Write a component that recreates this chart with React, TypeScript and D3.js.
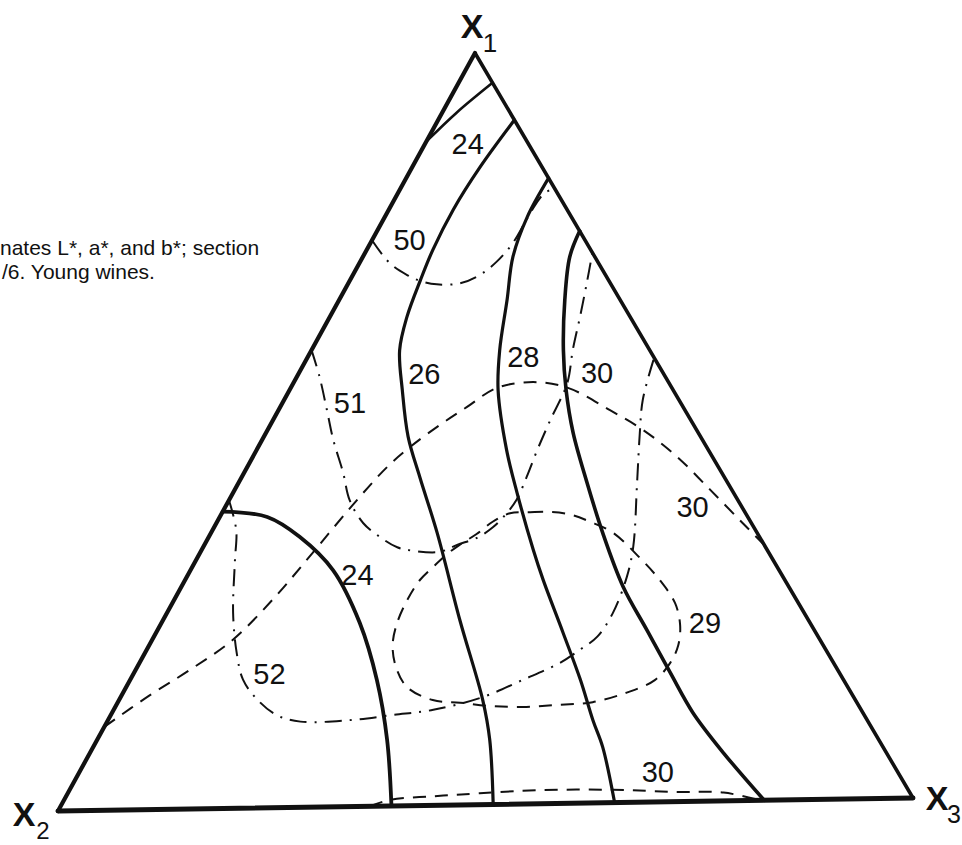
import React from "react";
import * as d3 from "d3";

// Ternary compositions are written as [x1, x2, x3].
type T = [number, number, number];

// a* contours (solid)
const a24Top: T[] = [[0.883, 0.117, 0.0], [0.921, 0.062, 0.017], [0.96, 0.0, 0.04]];
const a26: T[] = [
  [0.91, 0.0, 0.09], [0.848, 0.072, 0.08], [0.792, 0.132, 0.076], [0.739, 0.183, 0.078],
  [0.699, 0.218, 0.083], [0.65, 0.259, 0.091], [0.606, 0.29, 0.104], [0.553, 0.314, 0.133],
  [0.491, 0.339, 0.17], [0.437, 0.353, 0.21], [0.362, 0.371, 0.267], [0.246, 0.404, 0.35],
  [0.139, 0.432, 0.429], [0.086, 0.451, 0.463], [0.0, 0.491, 0.509],
];
const a28: T[] = [
  [0.832, 0.0, 0.168], [0.781, 0.051, 0.168], [0.728, 0.095, 0.177], [0.671, 0.131, 0.198],
  [0.604, 0.174, 0.222], [0.551, 0.203, 0.246], [0.471, 0.234, 0.295], [0.414, 0.251, 0.335],
  [0.338, 0.271, 0.391], [0.298, 0.28, 0.422], [0.227, 0.293, 0.48], [0.164, 0.305, 0.531],
  [0.11, 0.318, 0.572], [0.074, 0.325, 0.601], [0.0, 0.349, 0.651],
];
const a30: T[] = [
  [0.761, 0.0, 0.239], [0.727, 0.029, 0.244], [0.67, 0.064, 0.266], [0.603, 0.1, 0.297],
  [0.55, 0.124, 0.326], [0.493, 0.145, 0.362], [0.426, 0.163, 0.411], [0.359, 0.179, 0.462],
  [0.287, 0.192, 0.521], [0.229, 0.194, 0.577], [0.171, 0.196, 0.633], [0.118, 0.197, 0.685],
  [0.064, 0.189, 0.747], [0.0, 0.174, 0.826],
];
const a24Low: T[] = [
  [0.395, 0.605, 0.0], [0.387, 0.557, 0.056], [0.36, 0.533, 0.107], [0.315, 0.517, 0.168],
  [0.244, 0.522, 0.234], [0.168, 0.541, 0.291], [0.088, 0.57, 0.342], [0.0, 0.61, 0.39],
];

// L* contours (dash-dot)
const l50: T[] = [
  [0.753, 0.247, 0.0], [0.722, 0.242, 0.036], [0.706, 0.23, 0.064], [0.698, 0.219, 0.083],
  [0.693, 0.202, 0.105], [0.694, 0.174, 0.132], [0.705, 0.145, 0.15], [0.722, 0.117, 0.161],
  [0.747, 0.085, 0.168], [0.786, 0.045, 0.169], [0.81, 0.018, 0.172], [0.819, 0.0, 0.181],
];
const l51: T[] = [
  [0.608, 0.392, 0.0], [0.572, 0.401, 0.027], [0.528, 0.415, 0.057], [0.488, 0.428, 0.084],
  [0.444, 0.439, 0.117], [0.408, 0.45, 0.142], [0.377, 0.45, 0.173], [0.358, 0.44, 0.202],
  [0.344, 0.427, 0.229], [0.339, 0.411, 0.25], [0.337, 0.381, 0.282], [0.346, 0.356, 0.298],
  [0.355, 0.328, 0.317], [0.369, 0.302, 0.329], [0.387, 0.277, 0.336], [0.405, 0.256, 0.339],
  [0.435, 0.229, 0.336], [0.471, 0.198, 0.331], [0.51, 0.163, 0.327], [0.559, 0.118, 0.323],
  [0.603, 0.089, 0.308], [0.647, 0.058, 0.295], [0.692, 0.027, 0.281], [0.732, 0.0, 0.268],
];
const l52: T[] = [
  [0.41, 0.59, 0.0], [0.37, 0.602, 0.028], [0.33, 0.624, 0.046], [0.26, 0.662, 0.078],
  [0.207, 0.685, 0.108], [0.171, 0.696, 0.133], [0.144, 0.693, 0.163], [0.123, 0.681, 0.196],
  [0.114, 0.658, 0.228], [0.115, 0.6, 0.285], [0.121, 0.546, 0.333], [0.127, 0.496, 0.377],
  [0.143, 0.43, 0.427], [0.165, 0.372, 0.463], [0.187, 0.317, 0.496], [0.204, 0.285, 0.511],
  [0.221, 0.256, 0.523], [0.252, 0.222, 0.526], [0.3, 0.181, 0.519], [0.34, 0.153, 0.507],
  [0.425, 0.105, 0.47], [0.491, 0.068, 0.441], [0.535, 0.042, 0.423], [0.591, 0.0, 0.409],
];

// b* contours (dashed)
const b30Upper: T[] = [
  [0.111, 0.889, 0.0], [0.152, 0.815, 0.033], [0.185, 0.751, 0.064], [0.224, 0.681, 0.095],
  [0.28, 0.603, 0.117], [0.339, 0.528, 0.133], [0.401, 0.45, 0.149], [0.451, 0.384, 0.165],
  [0.477, 0.344, 0.179], [0.506, 0.294, 0.2], [0.529, 0.251, 0.22], [0.554, 0.203, 0.243],
  [0.561, 0.157, 0.282], [0.553, 0.121, 0.326], [0.522, 0.087, 0.391], [0.495, 0.062, 0.443],
  [0.459, 0.041, 0.5], [0.414, 0.025, 0.561], [0.369, 0.01, 0.621], [0.34, 0.0, 0.66],
];
const b29Loop: T[] = [
  [0.387, 0.273, 0.34], [0.388, 0.249, 0.363], [0.388, 0.226, 0.386], [0.384, 0.204, 0.412],
  [0.374, 0.186, 0.44], [0.359, 0.167, 0.474], [0.325, 0.153, 0.522], [0.295, 0.145, 0.56],
  [0.264, 0.143, 0.593], [0.235, 0.152, 0.613], [0.208, 0.168, 0.624], [0.185, 0.189, 0.626],
  [0.162, 0.219, 0.619], [0.146, 0.26, 0.594], [0.134, 0.306, 0.56], [0.131, 0.349, 0.52],
  [0.129, 0.39, 0.481], [0.131, 0.428, 0.441], [0.136, 0.46, 0.404], [0.14, 0.49, 0.37],
  [0.158, 0.511, 0.331], [0.185, 0.51, 0.305], [0.214, 0.499, 0.287], [0.243, 0.479, 0.278],
  [0.274, 0.451, 0.275], [0.3, 0.423, 0.277], [0.317, 0.399, 0.284], [0.332, 0.377, 0.291],
  [0.346, 0.353, 0.301], [0.36, 0.326, 0.314], [0.376, 0.299, 0.325],
];
const b30Lower: T[] = [
  [0.0, 0.635, 0.365], [0.008, 0.608, 0.384], [0.012, 0.555, 0.433], [0.015, 0.499, 0.486],
  [0.018, 0.427, 0.555], [0.017, 0.342, 0.641], [0.013, 0.274, 0.713], [0.011, 0.216, 0.773],
  [0.0, 0.178, 0.822],
];

// Contour labels and where they sit
const labelTexts = ["24", "50", "26", "28", "30", "51", "30", "24", "29", "52", "30"];
const labelAt: T[] = [
  [0.88, 0.07, 0.05], [0.753, 0.203, 0.044], [0.575, 0.277, 0.148], [0.595, 0.151, 0.254],
  [0.573, 0.076, 0.351], [0.538, 0.383, 0.079], [0.392, 0.057, 0.551], [0.308, 0.492, 0.2],
  [0.237, 0.122, 0.641], [0.179, 0.661, 0.16], [0.04, 0.278, 0.682],
];

const captionLines = ["nates L*, a*, and b*; section", "/6. Young wines."];

const W = 962;
const H = 845;

// Corner positions of the composition triangle
const P1: [number, number] = [475, 53];
const P2: [number, number] = [58, 811];
const P3: [number, number] = [913, 798];

// Each component pulls the point from the X2 corner toward its own corner
const s1 = d3.scaleLinear<[number, number]>().domain([0, 1]).range([[0, 0], [P1[0] - P2[0], P1[1] - P2[1]]]);
const s3 = d3.scaleLinear<[number, number]>().domain([0, 1]).range([[0, 0], [P3[0] - P2[0], P3[1] - P2[1]]]);

function project([a, b, c]: T): [number, number] {
  const s = a + b + c;
  const u = s1(a / s) as unknown as [number, number];
  const v = s3(c / s) as unknown as [number, number];
  return [P2[0] + u[0] + v[0], P2[1] + u[1] + v[1]];
}

const open = d3.line<T>().x((d) => project(d)[0]).y((d) => project(d)[1]).curve(d3.curveCatmullRom.alpha(0.5));
const closed = d3.line<T>().x((d) => project(d)[0]).y((d) => project(d)[1]).curve(d3.curveCatmullRomClosed.alpha(0.5));

const INK = "#111";
const DASH = "13 9";
const DASHDOT = "17 8 2 8";

export default function App() {
  const v1 = project([1, 0, 0]);
  const v2 = project([0, 1, 0]);
  const v3 = project([0, 0, 1]);

  const solid = [
    { d: a24Top, w: 2.6 },
    { d: a26, w: 3.2 },
    { d: a28, w: 3.2 },
    { d: a30, w: 3.6 },
    { d: a24Low, w: 3.8 },
  ];
  const dashDot = [l50, l51, l52];
  const dashed = [b30Upper, b30Lower];

  return (
    <svg
      width={W}
      height={H}
      viewBox={`0 0 ${W} ${H}`}
      style={{ position: "absolute", left: 0, top: 0, background: "#fff" }}
    >
      <rect width={W} height={H} fill="#fff" />

      {/* caption fragment */}
      <g fontFamily="'Liberation Sans', Arial, sans-serif" fontSize={21} fill={INK}>
        <text x={0} y={255}>{captionLines[0]}</text>
        <text x={2} y={279}>{captionLines[1]}</text>
      </g>

      {/* b* contours */}
      <g fill="none" stroke={INK} strokeWidth={2} strokeDasharray={DASH}>
        {dashed.map((d, i) => (
          <path key={i} d={open(d) ?? ""} />
        ))}
        <path d={closed(b29Loop) ?? ""} />
      </g>

      {/* L* contours */}
      <g fill="none" stroke={INK} strokeWidth={2} strokeDasharray={DASHDOT}>
        {dashDot.map((d, i) => (
          <path key={i} d={open(d) ?? ""} />
        ))}
      </g>

      {/* a* contours */}
      <g fill="none" stroke={INK} strokeLinecap="round">
        {solid.map((s, i) => (
          <path key={i} d={open(s.d) ?? ""} strokeWidth={s.w} />
        ))}
      </g>

      {/* triangle frame */}
      <g stroke={INK} strokeLinecap="round">
        <line x1={v1[0]} y1={v1[1]} x2={v2[0]} y2={v2[1]} strokeWidth={4.2} />
        <line x1={v1[0]} y1={v1[1]} x2={v3[0]} y2={v3[1]} strokeWidth={3.6} />
        <line x1={v2[0]} y1={v2[1]} x2={v3[0]} y2={v3[1]} strokeWidth={5} />
      </g>

      {/* contour values */}
      <g fontFamily="'Liberation Sans', Arial, sans-serif" fontSize={29} fill={INK} textAnchor="middle">
        {labelTexts.map((t, i) => {
          const [x, y] = project(labelAt[i]);
          return (
            <text key={i} x={x} y={y} dy="0.36em">
              {t}
            </text>
          );
        })}
      </g>

      {/* corner names */}
      <g fontFamily="'Liberation Sans', Arial, sans-serif" fill={INK}>
        <text x={v1[0] - 3} y={v1[1] - 15} fontSize={34} fontWeight="bold" textAnchor="middle">X</text>
        <text x={v1[0] + 15} y={v1[1] - 1} fontSize={26} textAnchor="middle">1</text>
        <text x={v2[0] - 34} y={v2[1] + 15} fontSize={34} fontWeight="bold" textAnchor="middle">X</text>
        <text x={v2[0] - 15} y={v2[1] + 28} fontSize={24} textAnchor="middle">2</text>
        <text x={v3[0] + 24} y={v3[1] + 12} fontSize={34} fontWeight="bold" textAnchor="middle">X</text>
        <text x={v3[0] + 41} y={v3[1] + 25} fontSize={25} textAnchor="middle">3</text>
      </g>
    </svg>
  );
}
